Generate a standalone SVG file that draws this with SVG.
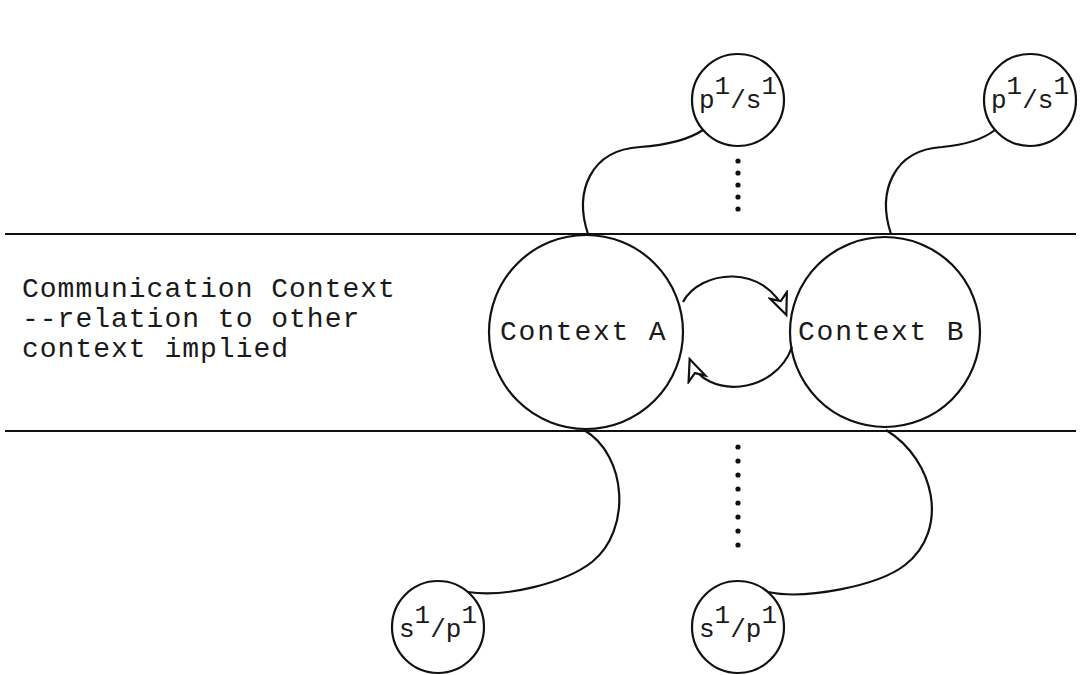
<svg xmlns="http://www.w3.org/2000/svg" width="1080" height="675" viewBox="0 0 1080 675">
<style>
.ln{stroke:#111;stroke-width:2.2;fill:none}
.nd{stroke:#111;stroke-width:2.2;fill:none}
.cn{stroke:#111;stroke-width:2.2;fill:none}
.t{font-family:"Liberation Mono","DejaVu Sans Mono",monospace;font-size:28px;letter-spacing:1.8px;fill:#1a1a1a}
.tl{letter-spacing:1px}
.ts{font-size:26px;letter-spacing:0px}
.dot{fill:#111}
</style>
<defs>
<marker id="ah" markerUnits="userSpaceOnUse" markerWidth="28" markerHeight="24" refX="22" refY="10" orient="auto" viewBox="0 0 28 20">
<path d="M2,1 L23,10 L2,19 L8,10 Z" fill="#fff" stroke="#111" stroke-width="2.2" stroke-linejoin="miter"/>
</marker>
</defs>
<rect width="1080" height="675" fill="#fff"/>
<g id="bands">
<line class="ln" x1="5" y1="234" x2="1076" y2="234"/>
<line class="ln" x1="5" y1="431" x2="1076" y2="431"/>
</g>
<g id="label-communication">
<text class="t tl" x="22" y="297">Communication Context</text>
<text class="t tl" x="22" y="327">--relation to other</text>
<text class="t tl" x="22" y="357">context implied</text>
</g>
<g id="connectors">
<path class="cn" d="M588,234 C574,192 590,150 640,147 C668,145 688,140 703,130"/>
<path class="cn" d="M891,234 C877,192 893,150 942,147 C965,145 982,140 995,130"/>
<path class="cn" d="M584,430 C627,455 632,530 592,562 C565,583 505,598 468,592"/>
<path class="cn" d="M886,430 C935,460 950,530 905,565 C878,586 805,600 768,592"/>
<path class="cn" d="M683,302 C700,270 765,262 786,314" marker-end="url(#ah)"/>
<path class="cn" d="M792,347 C775,395 705,400 690,360" marker-end="url(#ah)"/>
<g id="dots-top">
<circle class="dot" cx="738" cy="161" r="2.6"/>
<circle class="dot" cx="738" cy="173" r="2.6"/>
<circle class="dot" cx="738" cy="185" r="2.6"/>
<circle class="dot" cx="738" cy="197" r="2.6"/>
<circle class="dot" cx="738" cy="209" r="2.6"/>
</g>
<g id="dots-bottom">
<circle class="dot" cx="738" cy="447" r="2.6"/>
<circle class="dot" cx="738" cy="461" r="2.6"/>
<circle class="dot" cx="738" cy="475" r="2.6"/>
<circle class="dot" cx="738" cy="489" r="2.6"/>
<circle class="dot" cx="738" cy="503" r="2.6"/>
<circle class="dot" cx="738" cy="517" r="2.6"/>
<circle class="dot" cx="738" cy="531" r="2.6"/>
<circle class="dot" cx="738" cy="545" r="2.6"/>
</g>
</g>
<g id="context-a">
<circle class="nd" cx="586" cy="332" r="97"/>
<text class="t" x="500" y="340">Context A</text>
</g>
<g id="context-b">
<circle class="nd" cx="885" cy="332" r="95"/>
<text class="t" x="798" y="340">Context B</text>
</g>
<g id="ps-top-a">
<circle class="nd" cx="738" cy="100" r="46"/>
<text class="t ts" x="699" y="108">p<tspan dy="-14">1</tspan><tspan dy="14">/s</tspan><tspan dy="-14">1</tspan></text>
</g>
<g id="ps-top-b">
<circle class="nd" cx="1030" cy="100" r="46"/>
<text class="t ts" x="991" y="108">p<tspan dy="-14">1</tspan><tspan dy="14">/s</tspan><tspan dy="-14">1</tspan></text>
</g>
<g id="sp-bottom-a">
<circle class="nd" cx="438" cy="627" r="46"/>
<text class="t ts" x="399" y="637">s<tspan dy="-14">1</tspan><tspan dy="14">/p</tspan><tspan dy="-14">1</tspan></text>
</g>
<g id="sp-bottom-b">
<circle class="nd" cx="738" cy="627" r="46"/>
<text class="t ts" x="699" y="637">s<tspan dy="-14">1</tspan><tspan dy="14">/p</tspan><tspan dy="-14">1</tspan></text>
</g>
</svg>
